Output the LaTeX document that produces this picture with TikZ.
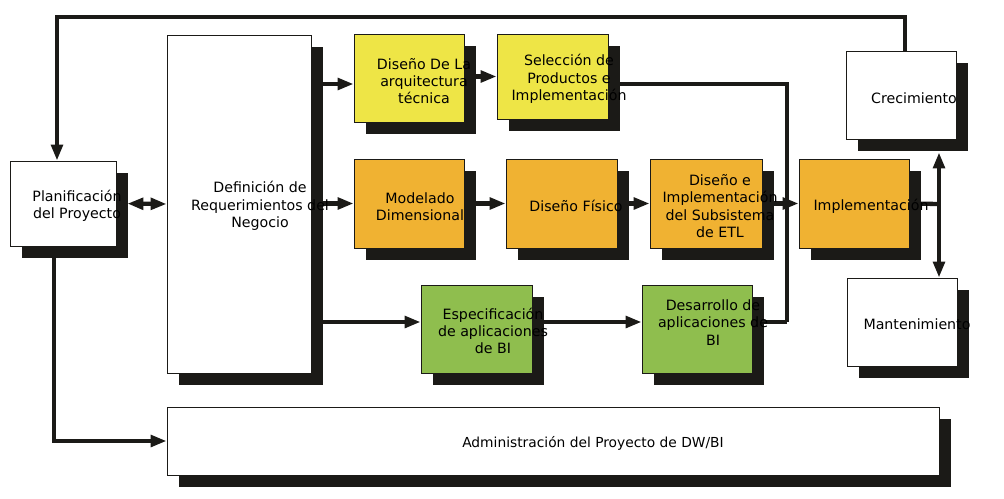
\documentclass[tikz,border=0pt]{standalone}
\usepackage{fontspec}
\setmainfont{DejaVu Sans}
\usetikzlibrary{arrows.meta, shadows, calc}
\definecolor{shadowc}{RGB}{27,26,23}
\definecolor{yellowc}{RGB}{238,229,70}
\definecolor{orangec}{RGB}{240,178,50}
\definecolor{greenc}{RGB}{143,190,78}

\begin{document}
\begin{tikzpicture}[x=1pt, y=-1pt,
    main/.style = {draw=shadowc, line width=0.8pt, fill=white, inner sep=0pt,
        drop shadow={shadow xshift=11.5pt, shadow yshift=-11.5pt, fill=shadowc, opacity=1}},
    txt/.style = {align=center, inner sep=0pt, font=\fontsize{14.2}{17.3}\selectfont},
    conn/.style = {draw=shadowc, line width=4.3pt},
    arr/.style = {conn, -{Triangle[length=16pt, width=11.5pt]}},
    darr/.style = {conn, {Triangle[length=16pt, width=11.5pt]}-{Triangle[length=16pt, width=11.5pt]}}]
        \useasboundingbox (0,0) rectangle (1004,498);
        % boxes
        \node [main, minimum width=106pt, minimum height=85pt] (0) at (63,203.5) {};
        \node [main, minimum width=144pt, minimum height=338pt] (1) at (239,204) {};
        \node [main, fill=yellowc, minimum width=110pt, minimum height=88pt] (2) at (409,78) {};
        \node [main, fill=yellowc, minimum width=111pt, minimum height=85pt] (3) at (552.5,76.5) {};
        \node [main, fill=orangec, minimum width=110pt, minimum height=89pt] (4) at (409,203.5) {};
        \node [main, fill=orangec, minimum width=111pt, minimum height=89pt] (5) at (561.5,203.5) {};
        \node [main, fill=orangec, minimum width=112pt, minimum height=89pt] (6) at (706,203.5) {};
        \node [main, fill=orangec, minimum width=110pt, minimum height=89pt] (7) at (854,203.5) {};
        \node [main, minimum width=110pt, minimum height=88pt] (8) at (901,95) {};
        \node [main, minimum width=110pt, minimum height=88pt] (9) at (902,322) {};
        \node [main, fill=greenc, minimum width=111pt, minimum height=88pt] (10) at (476.5,329) {};
        \node [main, fill=greenc, minimum width=110pt, minimum height=88pt] (11) at (697,329) {};
        \node [main, minimum width=772pt, minimum height=68pt] (12) at (553,441) {};
        \coordinate (c0) at (57,17);
        \coordinate (m) at (787,322);
        \coordinate (v) at (939,204);
        % connectors
        \draw [arr] ([xshift=4pt]8.north) |- (c0) -- ([xshift=-6pt]0.north);
        \draw [darr, shorten <=11pt] (0.east) -- (1.west);
        \draw [arr] ([xshift=-9pt]0.south) |- (12.west);
        \draw [arr] ($(1.east|-2.west)+(0,6)$) -- ($(2.west)+(0,6)$);
        \draw [arr] (1.east|-4.west) -- (4.west);
        \draw [arr] ($(1.east|-10.west)+(0,-7)$) -- ($(10.west)+(0,-7)$);
        \draw [arr] (2.east|-3.west) -- (3.west);
        \draw [conn] ($(3.east)+(0,7.5)$) -| (m);
        \draw [conn] ($(11.east)+(0,-7)$) -- (m);
        \draw [arr] (4.east) -- (5.west);
        \draw [arr] (5.east) -- (6.west);
        \draw [arr] (6.east) -- (7.west);
        \draw [arr] ($(10.east)+(0,-7)$) -- ($(11.west)+(0,-7)$);
        \draw [conn] (7.east) -- (v);
        \draw [darr, shorten <=13pt] (8.south-|v) -- (9.north-|v);
        % texts
        \node [txt] (t0) at (77,206) {Planificación\\del Proyecto};
        \node [txt] (t1) at (260,206) {Definición de\\Requerimientos del\\Negocio};
        \node [txt] (t2) at (424,81) {Diseño De La\\arquitectura\\técnica};
        \node [txt] (t3) at (569,79) {Selección de\\Productos e\\Implementación};
        \node [txt] (t4) at (420,206.5) {Modelado\\Dimensional};
        \node [txt] (t5) at (576,206) {Diseño Físico};
        \node [txt] (t6) at (720,206) {Diseño e\\Implementación\\del Subsistema\\de ETL};
        \node [txt] (t7) at (871,206) {Implementación};
        \node [txt] (t8) at (914,98) {Crecimiento};
        \node [txt] (t9) at (917,324) {Mantenimiento};
        \node [txt] (t10) at (493,331) {Especificación\\de aplicaciones\\de BI};
        \node [txt] (t11) at (713,322.5) {Desarrollo de\\aplicaciones de\\BI};
        \node [txt, font=\fontsize{13.8}{17}\selectfont] (t12) at (593,443) {Administración del Proyecto de DW/BI};
\end{tikzpicture}
\end{document}
